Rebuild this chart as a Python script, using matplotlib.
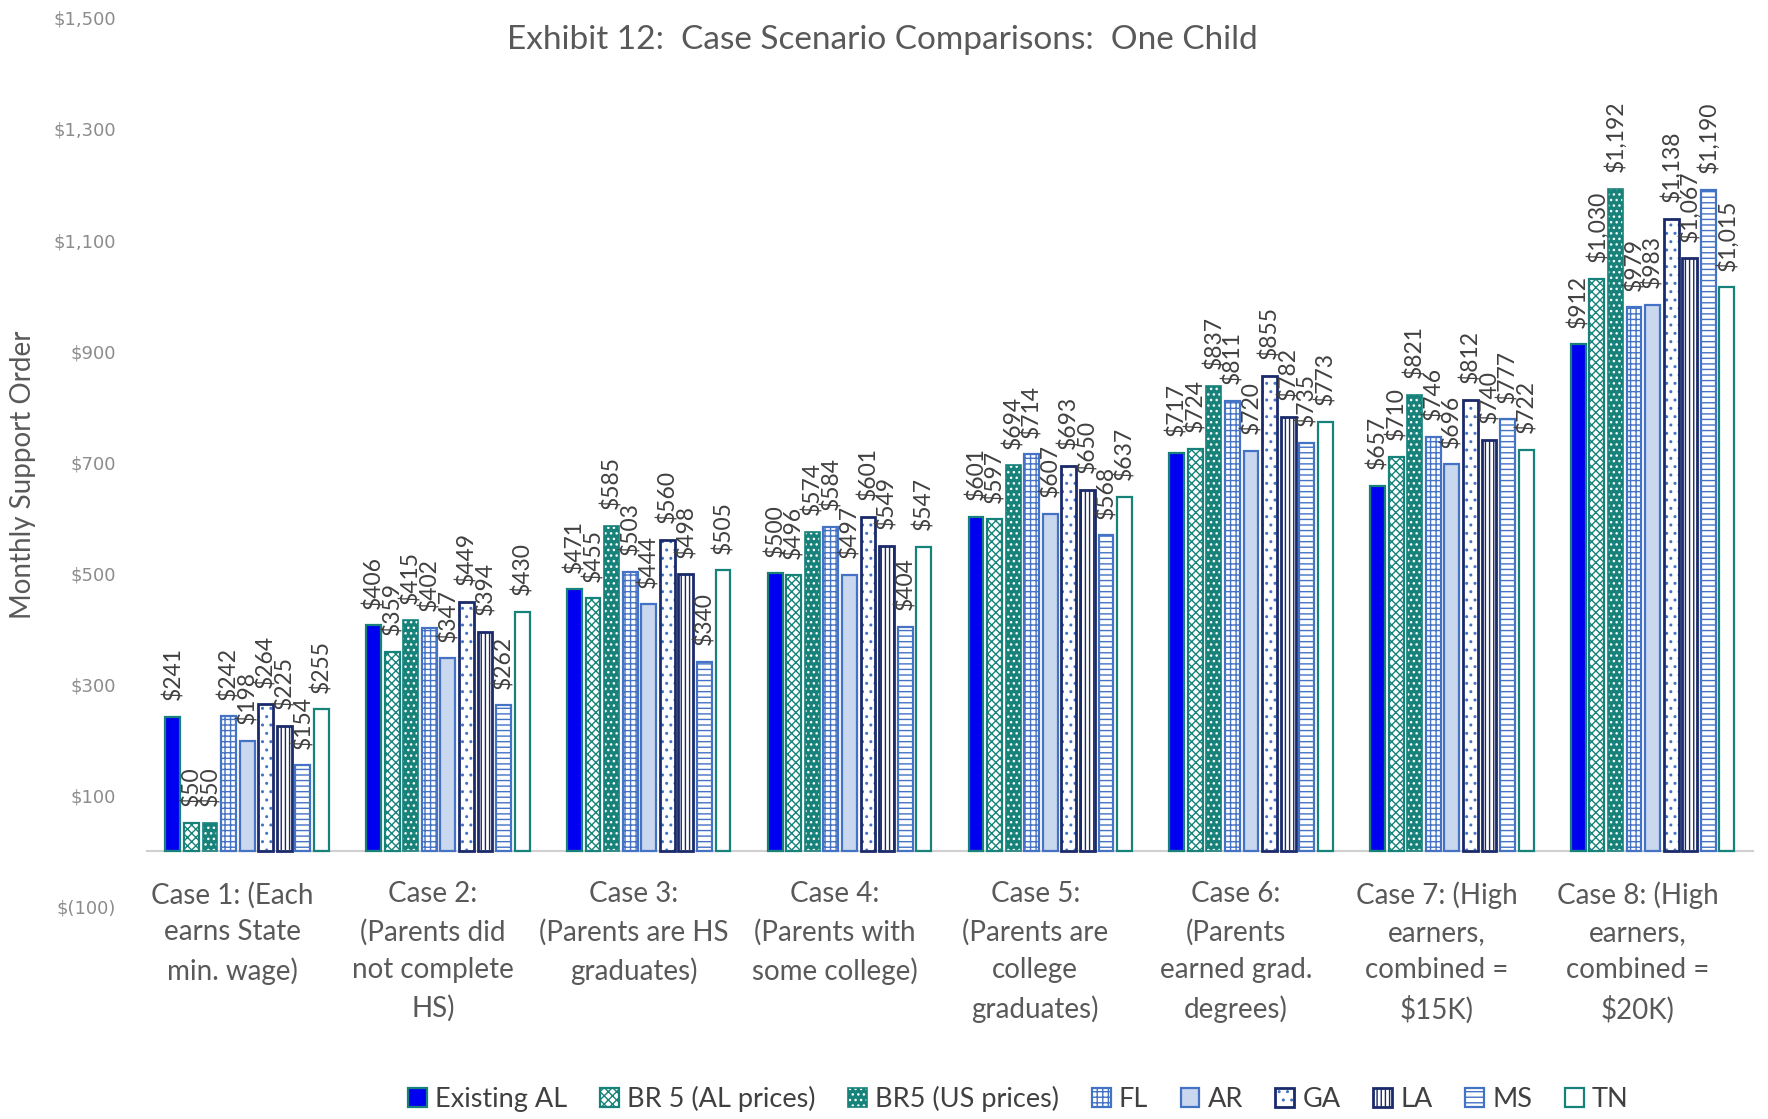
import matplotlib.pyplot as plt
from matplotlib.legend_handler import HandlerTuple
from matplotlib.transforms import ScaledTranslation
import numpy as np

cases = [
    "Case 1: (Each\nearns State\nmin. wage)",
    "Case 2:\n(Parents did\nnot complete\nHS)",
    "Case 3:\n(Parents are HS\ngraduates)",
    "Case 4:\n(Parents with\nsome college)",
    "Case 5:\n(Parents are\ncollege\ngraduates)",
    "Case 6:\n(Parents\nearned grad.\ndegrees)",
    "Case 7: (High\nearners,\ncombined =\n$15K)",
    "Case 8: (High\nearners,\ncombined =\n$20K)",
]

series_names = ["Existing AL", "BR 5 (AL prices)", "BR5 (US prices)", "FL", "AR", "GA", "LA", "MS", "TN"]

existing_al = [241, 406, 471, 500, 601, 717, 657, 912]
br5_al = [50, 359, 455, 496, 597, 724, 710, 1030]
br5_us = [50, 415, 585, 574, 694, 837, 821, 1192]
fl = [242, 402, 503, 584, 714, 811, 746, 979]
ar = [198, 347, 444, 497, 607, 720, 696, 983]
ga = [264, 449, 560, 601, 693, 855, 812, 1138]
la = [225, 394, 498, 549, 650, 782, 740, 1067]
ms = [154, 262, 340, 404, 568, 735, 777, 1190]
tn = [255, 430, 505, 547, 637, 773, 722, 1015]

all_series = [existing_al, br5_al, br5_us, fl, ar, ga, la, ms, tn]

TEAL = "#17827A"
BLUE = "#4472C4"
NAVY = "#1B2A6B"

# face, hatch colour, hatch, outline colour, outline width
styles = [
    ("#0000F0", "#0000F0", None, TEAL, 1.6),
    ("white", TEAL, "xxxx", TEAL, 1.6),
    (TEAL, "white", "...", TEAL, 1.2),
    ("white", BLUE, "+++", BLUE, 1.6),
    ("#C9D7EF", "#C9D7EF", None, BLUE, 1.6),
    ("white", BLUE, "..", NAVY, 2.0),
    ("white", NAVY, "||||", NAVY, 2.0),
    ("white", BLUE, "---", BLUE, 1.6),
    ("white", "white", None, TEAL, 1.6),
]

plt.rcParams['hatch.linewidth'] = 1.0
plt.rcParams['font.family'] = ['Lato', 'DejaVu Sans']

fig = plt.figure(figsize=(17.68, 11.19), dpi=100)
ax = fig.add_axes([0.083, 0.19, 0.9085, 0.794])

# x axis sits on the zero line, so move the spine before styling the ticks
for s in ['top', 'right', 'left']:
    ax.spines[s].set_visible(False)
ax.spines['bottom'].set_position(('data', 0))
ax.spines['bottom'].set_color('#D0D0D0')
ax.spines['bottom'].set_linewidth(1.5)

x = np.arange(len(cases))
slot = 0.0925
bar_w = 0.074
handles = []
for j, (vals, (face, hcol, hatch, edge, lw)) in enumerate(zip(all_series, styles)):
    pos = x + (j - 4) * slot
    filled = ax.bar(pos, vals, bar_w, color=face, edgecolor=hcol, hatch=hatch, linewidth=0, zorder=2)
    outline = ax.bar(pos, vals, bar_w, fill=False, edgecolor=edge, linewidth=lw, zorder=3)
    handles.append((filled[0], outline[0]))
    for px, v in zip(pos, vals):
        ax.annotate(f"${v:,}", (px, v), xytext=(0, 12), textcoords='offset points',
                    rotation=90, ha='center', va='bottom', fontsize=16.5, color='#404040')

ax.set_xlim(-0.5, len(cases) - 0.5)
ax.set_ylim(-100, 1500)
ax.set_yticks(np.arange(-100, 1501, 200))
ax.set_yticklabels([f"${v:,}" if v >= 0 else f"$({-v:,})" for v in range(-100, 1501, 200)],
                   fontsize=13, color='#8C8C8C', family='DejaVu Sans')
ax.tick_params(axis='y', length=0, pad=22)

ax.set_xticks(x)
ax.set_xticklabels(cases, fontsize=20, color='#595959', linespacing=1.53)
ax.tick_params(axis='x', length=0, pad=22)
shift = ScaledTranslation(-15 / 100, 0, fig.dpi_scale_trans)
for lbl in ax.get_xticklabels():
    lbl.set_transform(lbl.get_transform() + shift)

fig.text(0.499, 0.964, "Exhibit 12:  Case Scenario Comparisons:  One Child",
         ha='center', va='center', fontsize=24, color='#595959')
fig.text(0.013, 0.576, "Monthly Support Order", rotation=90, ha='center', va='center',
         fontsize=20, color='#595959')

fig.legend(handles, series_names, handler_map={tuple: HandlerTuple(ndivide=1, pad=0)},
           loc='center', bbox_to_anchor=(0.576, 0.018), ncol=9, frameon=False,
           fontsize=19.5, handlelength=0.7, handleheight=0.7, handletextpad=0.3,
           columnspacing=1.2, labelcolor='#404040')

fig.savefig('out.png', dpi=100)
